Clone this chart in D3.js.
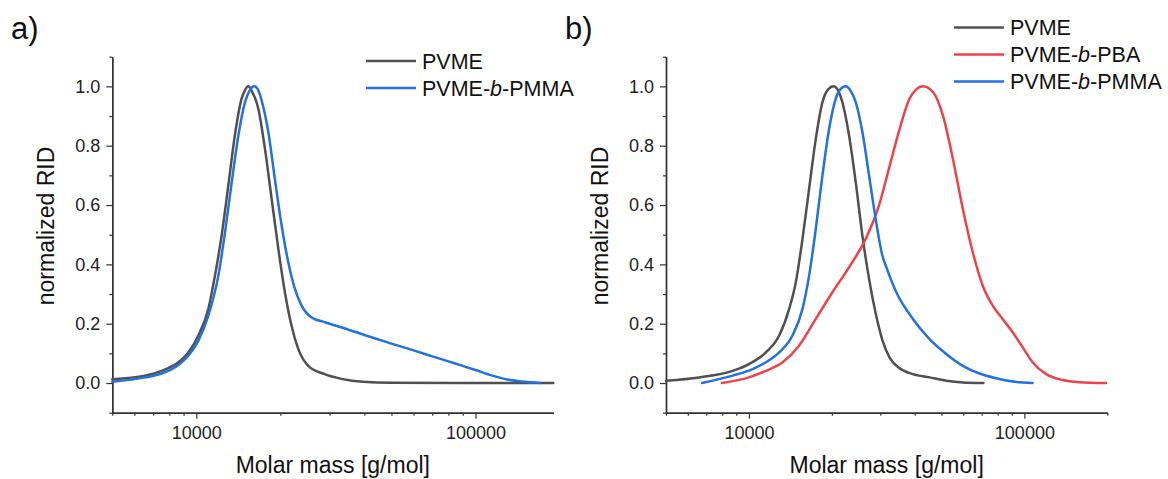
<!DOCTYPE html>
<html>
<head>
<meta charset="utf-8">
<script src="https://cdn.jsdelivr.net/npm/d3@7"></script>
<style>
  html, body { margin: 0; padding: 0; background: #fff; }
  svg { display: block; font-family: "Liberation Sans", Arial, sans-serif; }
</style>
</head>
<body>
<svg id="chart" width="1168" height="479"></svg>
<script>
// ---- Panel a: GPC traces (molar mass in g/mol, normalized RID signal) ----
const pvmeA_M = [5000, 6550, 7510, 8620, 9360, 10170, 11040, 11660, 12320, 13020, 13740, 14520, 14900, 15350, 15780, 16670, 17610, 18610, 19670, 20760, 21930, 23180, 25170, 28840, 33100, 39500, 50000, 190000];
const pvmeA_RID = [0.013, 0.025, 0.041, 0.070, 0.103, 0.160, 0.250, 0.362, 0.497, 0.666, 0.835, 0.958, 0.985, 1.000, 0.985, 0.925, 0.790, 0.621, 0.452, 0.306, 0.193, 0.115, 0.058, 0.030, 0.014, 0.004, 0.001, 0.000];

const pmmaA_M = [5000, 6550, 7510, 8620, 9360, 10170, 11040, 11990, 12670, 13390, 14150, 14940, 15500, 16130, 16700, 17130, 18110, 19110, 20210, 21350, 22550, 23820, 25870, 28880, 33000, 40000, 50000, 60000, 70000, 80000, 90000, 100000, 115000, 130000, 150000, 170000];
const pmmaA_RID = [0.004, 0.019, 0.032, 0.061, 0.092, 0.143, 0.227, 0.362, 0.508, 0.677, 0.835, 0.947, 0.985, 1.000, 0.985, 0.953, 0.846, 0.688, 0.531, 0.407, 0.317, 0.261, 0.221, 0.205, 0.188, 0.162, 0.133, 0.110, 0.090, 0.073, 0.058, 0.044, 0.025, 0.012, 0.004, 0.000];

// ---- Panel b ----
const pvmeB_M = [5000, 6600, 8730, 10000, 11525, 12880, 14000, 14800, 15650, 16540, 17490, 18490, 19400, 20270, 21100, 21840, 23090, 24420, 25820, 27300, 28850, 30510, 32450, 35250, 39380, 45260, 52030, 59770, 71000];
const pvmeB_RID = [0.008, 0.019, 0.041, 0.064, 0.103, 0.160, 0.250, 0.340, 0.486, 0.655, 0.823, 0.947, 0.990, 1.000, 0.985, 0.947, 0.835, 0.677, 0.497, 0.351, 0.235, 0.145, 0.085, 0.050, 0.030, 0.019, 0.008, 0.002, 0.000];

const pbaB_M = [7980, 10000, 11525, 13250, 15200, 17490, 20090, 23090, 26540, 29650, 32450, 35250, 38280, 40500, 42810, 46560, 50600, 55000, 59770, 64960, 70600, 76730, 83390, 90700, 98600, 107100, 119900, 137700, 158200, 197700];
const pbaB_RID = [0.000, 0.019, 0.041, 0.070, 0.126, 0.216, 0.306, 0.390, 0.486, 0.598, 0.733, 0.857, 0.958, 0.990, 1.000, 0.981, 0.902, 0.756, 0.587, 0.441, 0.328, 0.261, 0.216, 0.171, 0.120, 0.070, 0.030, 0.010, 0.003, 0.000];

const pmmaB_M = [6760, 8730, 10310, 11525, 12880, 14390, 15650, 16540, 17490, 18490, 19550, 20660, 21600, 22460, 23400, 24420, 25820, 27300, 28850, 30510, 31560, 34290, 39380, 45260, 52030, 59770, 68700, 79000, 90700, 107100];
const pmmaB_RID = [0.000, 0.025, 0.047, 0.070, 0.103, 0.160, 0.250, 0.362, 0.520, 0.700, 0.857, 0.958, 0.993, 1.000, 0.985, 0.947, 0.846, 0.700, 0.553, 0.430, 0.390, 0.306, 0.216, 0.148, 0.098, 0.058, 0.032, 0.016, 0.005, 0.000];

// ---- Axis ticks ----
const xMajorTicks = [10000, 100000];
const xMinorTicks = [5000, 6000, 7000, 8000, 9000, 20000, 30000, 40000, 50000, 60000, 70000, 80000, 90000, 200000];
const yMajorTicks = [0.0, 0.2, 0.4, 0.6, 0.8, 1.0];
const yMinorTicks = [-0.1, 0.1, 0.3, 0.5, 0.7, 0.9, 1.1];

const COLORS = { pvme: "#505050", pba: "#ec4249", pmma: "#2271de" };
const AXIS_COLOR = "#333";

const svg = d3.select("#chart");

function zip(ms, vs) { return ms.map((m, i) => ({ m, v: vs[i] })); }

function drawPanel(p) {
  const x = d3.scaleLog().domain(p.xDomain).range([p.left, p.right]);
  const y = d3.scaleLinear().domain([-0.1, 1.1]).range([p.bottom, p.top]);
  const g = svg.append("g");

  // x axis: labelled majors + unlabelled minors
  const xAxisMajor = d3.axisBottom(x).tickValues(xMajorTicks).tickFormat(d3.format("d"))
    .tickSize(6).tickSizeOuter(0).tickPadding(7.5);
  const xAxisMinor = d3.axisBottom(x)
    .tickValues(xMinorTicks.filter(t => t >= p.xDomain[0] && t <= p.xDomain[1] * 1.001))
    .tickFormat("").tickSize(3).tickSizeOuter(0);
  const gxMinor = g.append("g").attr("transform", `translate(0,${p.bottom})`).call(xAxisMinor);
  const gx = g.append("g").attr("transform", `translate(0,${p.bottom})`).call(xAxisMajor);

  const yAxisMajor = d3.axisLeft(y).tickValues(yMajorTicks).tickFormat(d3.format(".1f"))
    .tickSize(6).tickSizeOuter(0).tickPadding(6);
  const yAxisMinor = d3.axisLeft(y).tickValues(yMinorTicks).tickFormat("").tickSize(3).tickSizeOuter(0);
  const gyMinor = g.append("g").attr("transform", `translate(${p.left},0)`).call(yAxisMinor);
  const gy = g.append("g").attr("transform", `translate(${p.left},0)`).call(yAxisMajor);

  [gx, gy, gxMinor, gyMinor].forEach(a => {
    a.select(".domain").attr("stroke", AXIS_COLOR).attr("stroke-width", 1.4);
    a.selectAll(".tick line").attr("stroke", AXIS_COLOR).attr("stroke-width", 1.2);
    a.selectAll(".tick text").attr("fill", "#222").style("font-size", "18px")
      .style("font-family", '"Liberation Sans", Arial, sans-serif');
  });

  // curves
  const line = d3.line().x(d => x(d.m)).y(d => y(d.v)).curve(d3.curveMonotoneX);
  p.series.forEach(s => {
    g.append("path").datum(zip(s.m, s.v))
      .attr("fill", "none").attr("stroke", s.color).attr("stroke-width", 2.5)
      .attr("stroke-linejoin", "round").attr("stroke-linecap", "round")
      .attr("d", line);
  });

  // axis titles
  g.append("text").attr("x", (p.left + p.right) / 2).attr("y", 473)
    .attr("text-anchor", "middle").style("font-size", "23px").attr("fill", "#111")
    .text("Molar mass [g/mol]");
  g.append("text").attr("transform", `translate(${p.left - 58},${226}) rotate(-90)`)
    .attr("text-anchor", "middle").style("font-size", "23px").attr("fill", "#111")
    .text("normalized RID");

  // panel letter
  g.append("text").attr("x", p.letterX).attr("y", 39).style("font-size", "31px")
    .attr("fill", "#111").text(p.letter);

  // legend
  p.series.forEach((s, i) => {
    const ly = p.legendY + i * 27;
    g.append("line").attr("x1", p.legendX).attr("x2", p.legendX + 50)
      .attr("y1", ly).attr("y2", ly).attr("stroke", s.color).attr("stroke-width", 2.5);
    const t = g.append("text").attr("x", p.legendX + 56).attr("y", ly).attr("dy", "0.36em")
      .style("font-size", "21.5px").attr("fill", "#111");
    s.label.forEach(part => {
      t.append("tspan").style("font-style", part.italic ? "italic" : "normal").text(part.t);
    });
  });
}

const labPVME = [{ t: "PVME" }];
const labPBA = [{ t: "PVME-" }, { t: "b", italic: true }, { t: "-PBA" }];
const labPMMA = [{ t: "PVME-" }, { t: "b", italic: true }, { t: "-PMMA" }];

drawPanel({
  left: 112.3, right: 553.3, top: 56.7, bottom: 412.7,
  xDomain: [5000, 190000], letter: "a)", letterX: 11,
  legendX: 366, legendY: 61,
  series: [
    { m: pvmeA_M, v: pvmeA_RID, color: COLORS.pvme, label: labPVME },
    { m: pmmaA_M, v: pmmaA_RID, color: COLORS.pmma, label: labPMMA }
  ]
});

drawPanel({
  left: 666, right: 1107.3, top: 56.7, bottom: 412.7,
  xDomain: [5000, 200000], letter: "b)", letterX: 565,
  legendX: 954, legendY: 27.5,
  series: [
    { m: pvmeB_M, v: pvmeB_RID, color: COLORS.pvme, label: labPVME },
    { m: pbaB_M, v: pbaB_RID, color: COLORS.pba, label: labPBA },
    { m: pmmaB_M, v: pmmaB_RID, color: COLORS.pmma, label: labPMMA }
  ]
});
</script>
</body>
</html>
